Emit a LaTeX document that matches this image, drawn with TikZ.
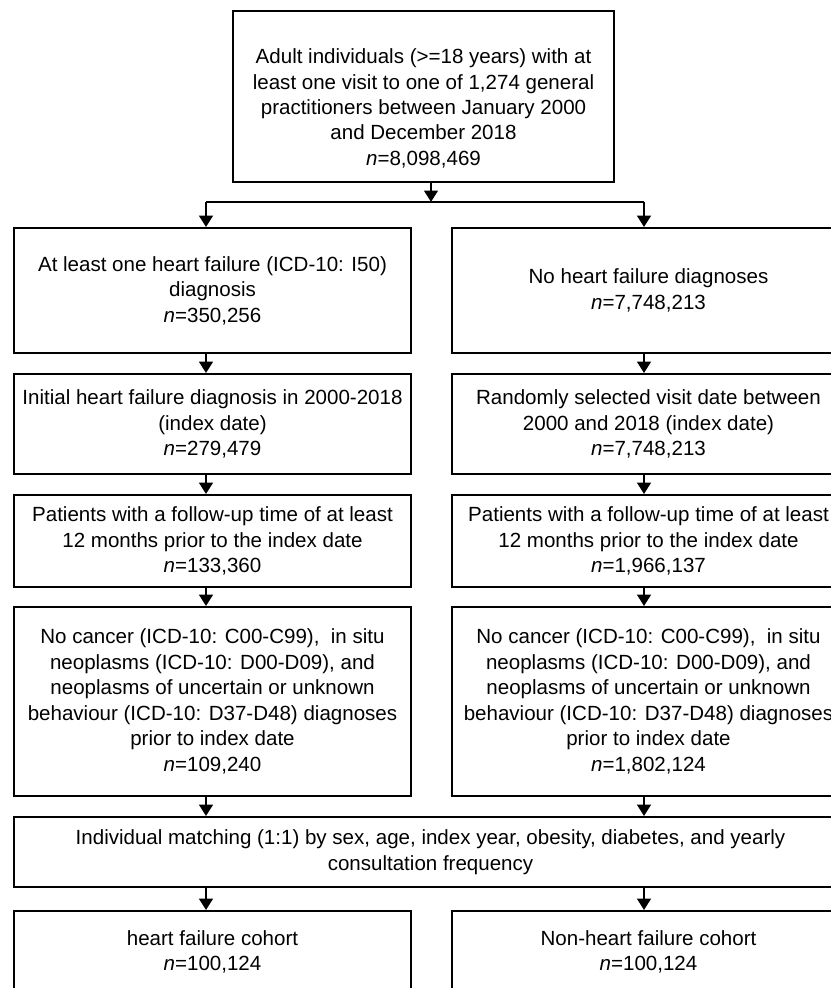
\documentclass[tikz,border=0pt]{standalone}
\usepackage{fontspec}
\setmainfont{Liberation Sans}
\usetikzlibrary{arrows.meta}
\begin{document}
\begin{tikzpicture}[x=0.75pt,y=-0.75pt,
  box/.style={draw=black,line width=1.4pt,align=center,inner sep=0pt,
    font=\fontsize{15.4}{19.1}\selectfont},
  arr/.style={line width=2.2pt,-{Triangle[length=8.5pt,width=10pt]}},
  conn/.style={line width=2.2pt}]
\useasboundingbox (0,0) rectangle (831,988);
\fill[white] (0,0) rectangle (831,988);
\clip (0,0) rectangle (831,988);
% boxes
\node[box,minimum width=381*0.75pt,minimum height=171*0.75pt] (top) at (423.5,96.5)
 {\rule{0pt}{29pt}Adult individuals (>=18 years) with at\\least one visit to one of 1,274 general\\practitioners between January 2000\\and December 2018\\\textit{n}=8,098,469};
\node[box,minimum width=397*0.75pt,minimum height=125*0.75pt] (r1L) at (212.5,290.5)
 {At least one heart failure (ICD-10: I50)\\diagnosis\\\textit{n}=350,256};
\node[box,minimum width=393*0.75pt,minimum height=125*0.75pt] (r1R) at (648.5,290.5)
 {No heart failure diagnoses\\\textit{n}=7,748,213};
\node[box,minimum width=397*0.75pt,minimum height=100*0.75pt] (r2L) at (212.5,424)
 {Initial heart failure diagnosis in 2000-2018\\(index date)\\\textit{n}=279,479};
\node[box,minimum width=393*0.75pt,minimum height=100*0.75pt] (r2R) at (648.5,424)
 {Randomly selected visit date between\\2000 and 2018 (index date)\\\textit{n}=7,748,213};
\node[box,minimum width=397*0.75pt,minimum height=92*0.75pt] (r3L) at (212.5,541)
 {Patients with a follow-up time of at least\\12 months prior to the index date\\\textit{n}=133,360};
\node[box,minimum width=393*0.75pt,minimum height=92*0.75pt] (r3R) at (648.5,541)
 {Patients with a follow-up time of at least\\12 months prior to the index date\\\textit{n}=1,966,137};
\node[box,minimum width=397*0.75pt,minimum height=189*0.75pt] (r4L) at (212.5,701.5)
 {No cancer (ICD-10: C00-C99),~ in situ\\neoplasms (ICD-10: D00-D09), and\\neoplasms of uncertain or unknown\\behaviour (ICD-10: D37-D48) diagnoses\\prior to index date\\\textit{n}=109,240};
\node[box,minimum width=393*0.75pt,minimum height=189*0.75pt] (r4R) at (648.5,701.5)
 {No cancer (ICD-10: C00-C99),~ in situ\\neoplasms (ICD-10: D00-D09), and\\neoplasms of uncertain or unknown\\behaviour (ICD-10: D37-D48) diagnoses\\prior to index date\\\textit{n}=1,802,124};
\node[box,minimum width=833*0.75pt,minimum height=70*0.75pt] (match) at (430.5,852)
 {Individual matching (1:1) by sex, age, index year, obesity, diabetes, and yearly\\consultation frequency};
\node[box,minimum width=397*0.75pt,minimum height=82*0.75pt] (fL) at (212.5,952)
 {heart failure cohort\\\textit{n}=100,124};
\node[box,minimum width=393*0.75pt,minimum height=82*0.75pt] (fR) at (648.5,952)
 {Non-heart failure cohort\\\textit{n}=100,124};
% column coordinates
\coordinate (cT) at (431,0);
\coordinate (cL) at (206,0);
\coordinate (cR) at (644,0);
\coordinate (split) at (431,202);
\coordinate (sL) at (206,202);
\coordinate (sR) at (644,202);
% connectors
\draw[arr] (top.south -| cT) -- (split);
\draw[conn] (sL) -- (sR);
\draw[arr] (sL) -- (r1L.north -| cL);
\draw[arr] (sR) -- (r1R.north -| cR);
\draw[arr] (r1L.south -| cL) -- (r2L.north -| cL);
\draw[arr] (r1R.south -| cR) -- (r2R.north -| cR);
\draw[arr] (r2L.south -| cL) -- (r3L.north -| cL);
\draw[arr] (r2R.south -| cR) -- (r3R.north -| cR);
\draw[arr] (r3L.south -| cL) -- (r4L.north -| cL);
\draw[arr] (r3R.south -| cR) -- (r4R.north -| cR);
\draw[arr] (r4L.south -| cL) -- (match.north -| cL);
\draw[arr] (r4R.south -| cR) -- (match.north -| cR);
\draw[arr] (match.south -| cL) -- (fL.north -| cL);
\draw[arr] (match.south -| cR) -- (fR.north -| cR);
\end{tikzpicture}
\end{document}
